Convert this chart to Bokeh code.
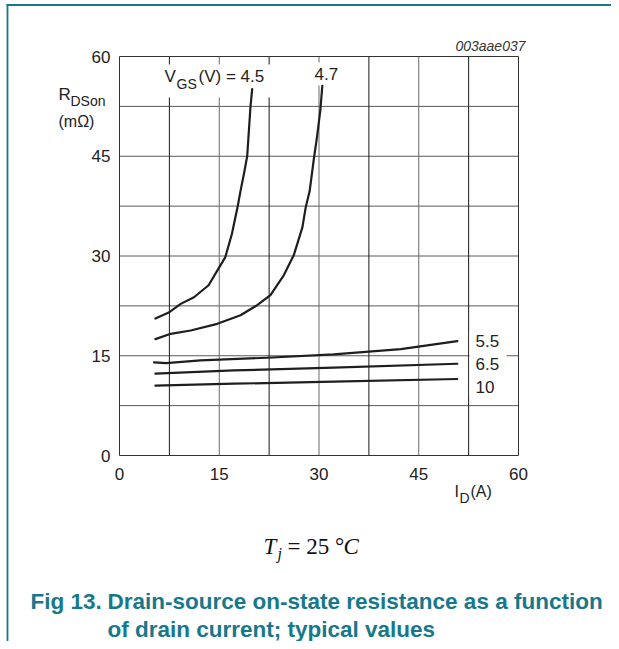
from bokeh.plotting import figure
from bokeh.models import Range1d, FixedTicker, Label
from bokeh.embed import file_html
from bokeh.resources import INLINE

# ---- data ----
id_45 = [5.4, 7.4, 9.2, 11.2, 13.4, 14.7, 15.9, 16.9, 17.8, 18.2, 18.7, 19.2, 19.7, 19.95]
r_45 = [20.6, 21.5, 22.8, 23.8, 25.6, 27.8, 29.8, 33.3, 37.6, 39.8, 42.3, 45.0, 52.5, 55.1]

id_47 = [5.4, 7.7, 10.7, 14.7, 18.2, 20.7, 22.7, 24.7, 26.2, 27.5, 28.0, 28.6, 29.2, 29.7, 30.2, 30.5]
r_47 = [17.5, 18.3, 18.8, 19.8, 21.1, 22.6, 24.1, 27.1, 30.1, 34.3, 37.3, 39.8, 44.4, 47.9, 51.9, 55.6]

id_55 = [5.2, 7.0, 12.2, 22.2, 32.2, 42.3, 50.8]
r_55 = [14.0, 13.9, 14.3, 14.7, 15.2, 16.0, 17.2]

id_65 = [5.4, 17.2, 32.2, 50.8]
r_65 = [12.3, 12.8, 13.2, 13.8]

id_10 = [5.4, 17.2, 32.2, 50.8]
r_10 = [10.5, 10.8, 11.1, 11.5]

x_ticks = [0, 15, 30, 45, 60]
y_ticks = [0, 15, 30, 45, 60]
grid_major = [15, 30, 45]
grid_minor = [7.5, 22.5, 37.5, 52.5]
grid_y = [7.5, 15, 22.5, 30, 37.5, 45, 52.5]
axis_ends = [0, 60]

TEAL = "#16788a"
INK = "#1e1e1e"
SANS = "Liberation Sans"
SERIF = "Liberation Serif"

W, H = 611, 641


# canvas-pixel -> data helpers (for text/frame placement only)
def dx(px):
    return (px - 119) / 6.65


def dy(py):
    return (455 - py) / 6.65


p = figure(width=W, height=H, x_range=Range1d(dx(0), dx(W)), y_range=Range1d(dy(H), dy(0)),
           output_backend="svg", toolbar_location=None, min_border=0)
p.title.visible = False
p.background_fill_color = "white"
p.border_fill_color = "white"
p.outline_line_color = None
p.xgrid.visible = False
p.ygrid.visible = False

for ax, ticks, standoff in ((p.xaxis[0], x_ticks, 12), (p.yaxis[0], y_ticks, 9)):
    ax.fixed_location = 0
    ax.bounds = (0, 60)
    ax.ticker = FixedTicker(ticks=ticks)
    ax.axis_line_color = None
    ax.major_tick_line_color = None
    ax.minor_tick_line_color = None
    ax.major_tick_in = 0
    ax.major_tick_out = 0
    ax.major_label_standoff = standoff
    ax.major_label_text_font = SANS
    ax.major_label_text_font_size = "17px"
    ax.major_label_text_color = "#222222"

# grid (every 7.5 units) and plot-area border
p.segment(x0=0, y0=grid_y, x1=60, y1=grid_y, line_color="#5a5a5a", line_width=1)
p.segment(x0=grid_major, y0=0, x1=grid_major, y1=60, line_color="#6a6a6a", line_width=1)
p.segment(x0=grid_minor, y0=0, x1=grid_minor, y1=60, line_color="#1a1a1a", line_width=1)
p.segment(x0=axis_ends, y0=0, x1=axis_ends, y1=60, line_color="#333333", line_width=1)
p.segment(x0=0, y0=axis_ends, x1=60, y1=axis_ends, line_color="#333333", line_width=1)

# white backgrounds behind in-plot labels (drawn below the curves)
p.quad(left=[dx(160), dx(312), dx(469)], right=[dx(272), dx(346), dx(506)],
       top=[dy(64), dy(62), dy(330)], bottom=[dy(97), dy(85), dy(396)],
       fill_color="white", line_color=None)

for xs, ys in ((id_45, r_45), (id_47, r_47), (id_55, r_55), (id_65, r_65), (id_10, r_10)):
    p.line(xs, ys, line_color=INK, line_width=2.2, line_join="round", line_cap="round")

# teal page frame
p.segment(x0=dx(6), y0=dy(4.5), x1=dx(W), y1=dy(4.5), line_color=TEAL, line_width=1.8)
p.segment(x0=dx(7), y0=dy(4), x1=dx(7), y1=dy(H), line_color=TEAL, line_width=1.8)


def lab(text, px, py, size="17px", font=SANS, style="normal", color="#222222", align="left"):
    p.add_layout(Label(x=dx(px), y=dy(py), text=text, text_font=font, text_font_size=size,
                       text_font_style=style, text_color=color, text_align=align,
                       text_baseline="middle"))


# curve labels
lab("V", 164, 76)
lab("GS", 176, 83, "14px")
lab("(V) = 4.5", 198, 76)
lab("4.7", 314, 73)
lab("5.5", 475, 340)
lab("6.5", 475, 363)
lab("10", 475, 386)

# axis titles
lab("R", 58, 94)
lab("DSon", 70, 100, "14px")
lab("(mΩ)", 58, 121, "16px")
lab("I", 454, 491, "16px")
lab("D", 459, 497, "14px")
lab("(A)", 470, 491, "16px")

# figure id
lab("003aae037", 525, 45, "14px", style="italic", color="#333333", align="right")

# condition
lab("T", 263, 546, "23px", font=SERIF, style="italic", color="#111111")
lab("j", 277, 553, "16px", font=SERIF, style="italic", color="#111111")
lab("= 25 °", 287, 546, "23px", font=SERIF, color="#111111")
lab("C", 343, 546, "23px", font=SERIF, style="italic", color="#111111")

# caption
lab("Fig 13.", 30, 601, "22.5px", style="bold", color=TEAL)
lab("Drain-source on-state resistance as a function", 107, 601, "22.5px", style="bold", color=TEAL)
lab("of drain current; typical values", 107, 629, "22.5px", style="bold", color=TEAL)

open("out.html", "w").write(file_html(p, INLINE))
